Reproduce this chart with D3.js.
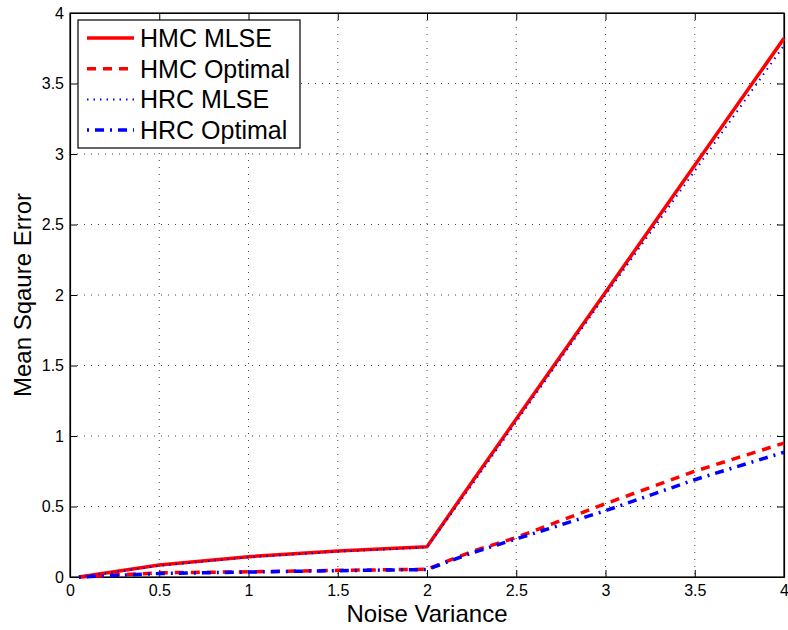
<!DOCTYPE html>
<html>
<head>
<meta charset="utf-8">
<script src="https://cdn.jsdelivr.net/npm/d3@7"></script>
<style>
    body { margin: 0; background: #fff; }
    text { font-family: "Liberation Sans", Arial, sans-serif; fill: #000; }
</style>
</head>
<body>
<script>
// Données
const noiseVariance = [0.05, 0.5, 1, 1.5, 2, 2.25, 2.5, 3, 3.5, 4]
const hmcMlse = [0, 0.085, 0.144, 0.184, 0.215, 0.67, 1.12, 2.02, 2.92, 3.82]
const hmcOptimal = [0, 0.03, 0.037, 0.047, 0.055, 0.18, 0.28, 0.52, 0.75, 0.95]
const hrcMlse = [0, 0.08, 0.14, 0.18, 0.21, 0.65, 1.1, 2.0, 2.88, 3.77]
const hrcOptimal = [0, 0.025, 0.035, 0.045, 0.053, 0.17, 0.27, 0.47, 0.69, 0.885]
const seriesNames = ['HMC MLSE', 'HMC Optimal', 'HRC MLSE', 'HRC Optimal']
const xTicks = [0, 0.5, 1, 1.5, 2, 2.5, 3, 3.5, 4]
const yTicks = [0, 0.5, 1, 1.5, 2, 2.5, 3, 3.5, 4]

// Styles des séries (façon MATLAB)
const styles = [
    { color: '#ff0000', width: 3.5, dash: null },
    { color: '#ff0000', width: 3.5, dash: '9,7' },
    { color: '#0000ff', width: 2, dash: '1.5,5' },
    { color: '#0000ff', width: 3.5, dash: '2,6,9,6' }
]
const seriesValues = [hmcMlse, hmcOptimal, hrcMlse, hrcOptimal]

const margin = { top: 13, right: 4, bottom: 53, left: 70 },
    width = 788 - margin.left - margin.right,
    height = 630 - margin.top - margin.bottom

const svg = d3.select('body').append('svg')
    .attr('width', 788)
    .attr('height', 630)

const g = svg.append('g')
    .attr('transform', `translate(${margin.left}, ${margin.top})`)

const x = d3.scaleLinear().domain([0, 4]).range([0, width])
const y = d3.scaleLinear().domain([0, 4]).range([height, 0])

// Grille pointillée
g.append('g').selectAll('line')
    .data(xTicks.slice(1, -1))
    .join('line')
    .attr('x1', d => x(d)).attr('x2', d => x(d))
    .attr('y1', 0).attr('y2', height)
    .attr('stroke', '#444')
    .attr('stroke-width', 1)
    .attr('stroke-dasharray', '1,6')

g.append('g').selectAll('line')
    .data(yTicks.slice(1, -1))
    .join('line')
    .attr('y1', d => y(d)).attr('y2', d => y(d))
    .attr('x1', 0).attr('x2', width)
    .attr('stroke', '#444')
    .attr('stroke-width', 1)
    .attr('stroke-dasharray', '1,6')

// Axes (ticks vers l'intérieur, sur les 4 côtés)
const fmt = d => String(d)
g.append('g')
    .attr('transform', `translate(0, ${height})`)
    .call(d3.axisBottom(x).tickValues(xTicks).tickFormat(fmt).tickSizeInner(-7).tickSizeOuter(0).tickPadding(8))
g.append('g')
    .call(d3.axisLeft(y).tickValues(yTicks).tickFormat(fmt).tickSizeInner(-7).tickSizeOuter(0).tickPadding(6))
g.append('g')
    .call(d3.axisTop(x).tickValues(xTicks).tickFormat('').tickSizeInner(-7).tickSizeOuter(0))
g.append('g')
    .attr('transform', `translate(${width}, 0)`)
    .call(d3.axisRight(y).tickValues(yTicks).tickFormat('').tickSizeInner(-7).tickSizeOuter(0))

g.selectAll('.domain').attr('stroke', '#000').attr('stroke-width', 1.2)
g.selectAll('.tick line').attr('stroke', '#000')
g.selectAll('.tick text').style('font-size', '16px').style('font-family', '"Liberation Sans", Arial, sans-serif')

// Cadre
g.append('rect')
    .attr('width', width)
    .attr('height', height)
    .attr('fill', 'none')
    .attr('stroke', '#000')
    .attr('stroke-width', 1.2)

// Courbes
const line = d3.line()
    .x((d, i) => x(noiseVariance[i]))
    .y(d => y(d))

seriesValues.forEach((values, i) => {
    g.append('path')
        .datum(values)
        .attr('d', line)
        .attr('fill', 'none')
        .attr('stroke', styles[i].color)
        .attr('stroke-width', styles[i].width)
        .attr('stroke-dasharray', styles[i].dash)
        .attr('stroke-linejoin', 'round')
})

// Légende
const legend = svg.append('g').attr('transform', 'translate(78, 20)')
legend.append('rect')
    .attr('width', 222)
    .attr('height', 128)
    .attr('fill', '#fff')
    .attr('stroke', '#000')
    .attr('stroke-width', 1.2)

seriesNames.forEach((name, i) => {
    const ly = 18 + i * 30.7
    legend.append('line')
        .attr('x1', 9).attr('x2', 56)
        .attr('y1', ly).attr('y2', ly)
        .attr('stroke', styles[i].color)
        .attr('stroke-width', styles[i].width)
        .attr('stroke-dasharray', styles[i].dash)
    legend.append('text')
        .attr('x', 62)
        .attr('y', ly + 9)
        .style('font-size', '25px')
        .text(name)
})

// Titres des axes
svg.append('text')
    .attr('x', margin.left + width / 2)
    .attr('y', 622)
    .attr('text-anchor', 'middle')
    .style('font-size', '24px')
    .text('Noise Variance')

svg.append('text')
    .attr('transform', `translate(31, ${margin.top + height / 2}) rotate(-90)`)
    .attr('text-anchor', 'middle')
    .style('font-size', '24px')
    .text('Mean Sqaure Error')
</script>
</body>
</html>
